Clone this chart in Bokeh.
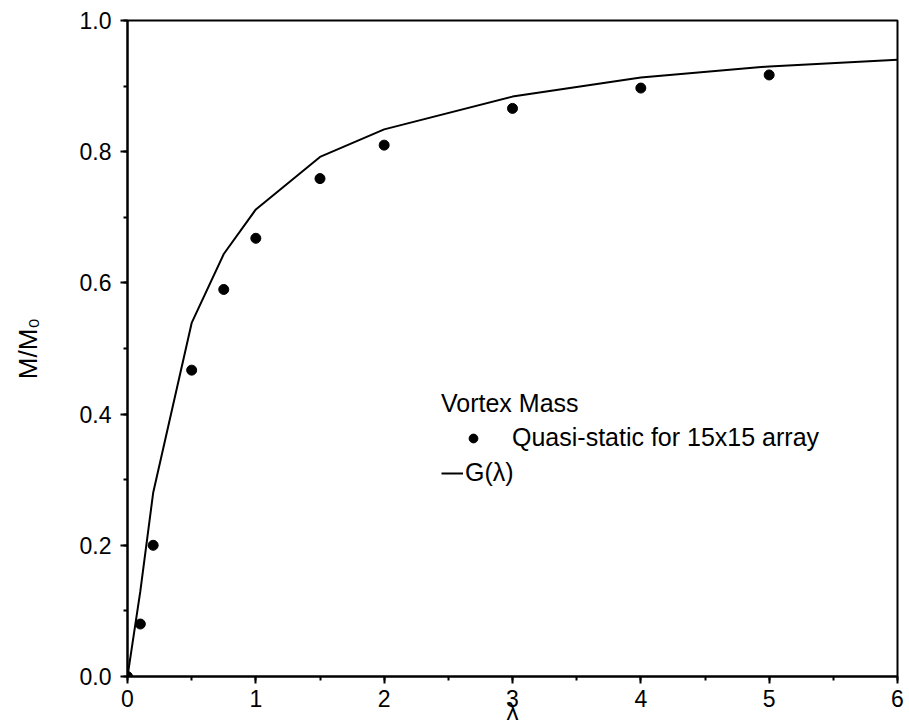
from bokeh.plotting import figure
from bokeh.models import Legend, LegendItem, SingleIntervalTicker, NumeralTickFormatter
from bokeh.embed import file_html
from bokeh.resources import INLINE

# Quasi-static vortex mass for a 15x15 array (points)
lam_pts = [0.0, 0.1, 0.2, 0.5, 0.75, 1.0, 1.5, 2.0, 3.0, 4.0, 5.0]
m_pts = [0.0, 0.08, 0.20, 0.467, 0.59, 0.668, 0.759, 0.81, 0.866, 0.897, 0.917]

# G(lambda) curve
lam_g = [0.0, 0.1, 0.2, 0.5, 0.75, 1.0, 1.5, 2.0, 3.0, 4.0, 5.0, 6.0]
g_vals = [0.0, 0.13, 0.28, 0.539, 0.644, 0.712, 0.792, 0.834, 0.884, 0.913, 0.930, 0.940]

legend_title = "Vortex Mass"
label_pts = "Quasi-static for 15x15 array"
label_g = "G(λ)"
x_label = "λ"
y_label = "M/M₀"

FONT = "Liberation Sans"

p = figure(width=909, height=727, x_range=(0, 6), y_range=(0, 1.0),
           output_backend="svg", toolbar_location=None,
           min_border_left=127, min_border_right=12, min_border_top=20, min_border_bottom=51)
p.background_fill_color = "white"
p.border_fill_color = "white"
p.outline_line_color = "black"
p.outline_line_width = 2
p.xgrid.visible = False
p.ygrid.visible = False

r_line = p.line(lam_g, g_vals, line_color="black", line_width=2)
r_pts = p.scatter(lam_pts, m_pts, size=10, color="black")

p.xaxis.ticker = SingleIntervalTicker(interval=1, num_minor_ticks=2)
p.yaxis.ticker = SingleIntervalTicker(interval=0.2, num_minor_ticks=2)
p.xaxis.formatter = NumeralTickFormatter(format="0")
p.yaxis.formatter = NumeralTickFormatter(format="0.0")

for ax in (p.xaxis[0], p.yaxis[0]):
    ax.axis_line_width = 2
    ax.axis_line_color = "black"
    ax.major_tick_line_width = 2
    ax.minor_tick_line_width = 2
    ax.major_tick_out = 7
    ax.major_tick_in = 0
    ax.minor_tick_out = 4
    ax.minor_tick_in = 0
    ax.major_label_text_font = FONT
    ax.major_label_text_font_size = "23px"
    ax.major_label_text_color = "black"
    ax.axis_label_text_font = FONT
    ax.axis_label_text_font_style = "normal"
    ax.axis_label_text_color = "black"

p.xaxis.axis_label = x_label
p.yaxis.axis_label = y_label
p.xaxis.axis_label_text_font_size = "24px"
p.yaxis.axis_label_text_font_size = "26px"
p.xaxis.major_label_standoff = 6
p.yaxis.major_label_standoff = 9
p.xaxis.axis_label_standoff = -12
p.yaxis.axis_label_standoff = 34

leg1 = Legend(items=[LegendItem(label=label_pts, renderers=[r_pts])],
              title=legend_title, location=(314, 224))
leg2 = Legend(items=[LegendItem(label=label_g, renderers=[r_line])],
              location=(314, 189))
for lg, gw, ls in ((leg1, 64, 7), (leg2, 22, 2)):
    lg.glyph_width = gw
    lg.glyph_height = 22
    lg.label_standoff = ls
    lg.label_text_font = FONT
    lg.label_text_font_size = "25px"
    lg.label_text_color = "black"
    lg.title_text_font = FONT
    lg.title_text_font_size = "25px"
    lg.title_text_font_style = "normal"
    lg.title_text_color = "black"
    lg.title_standoff = 5
    lg.padding = 0
    lg.margin = 0
    lg.spacing = 0
    lg.border_line_alpha = 0
    lg.background_fill_alpha = 0
    p.add_layout(lg)

open("out.html", "w").write(file_html(p, INLINE))
